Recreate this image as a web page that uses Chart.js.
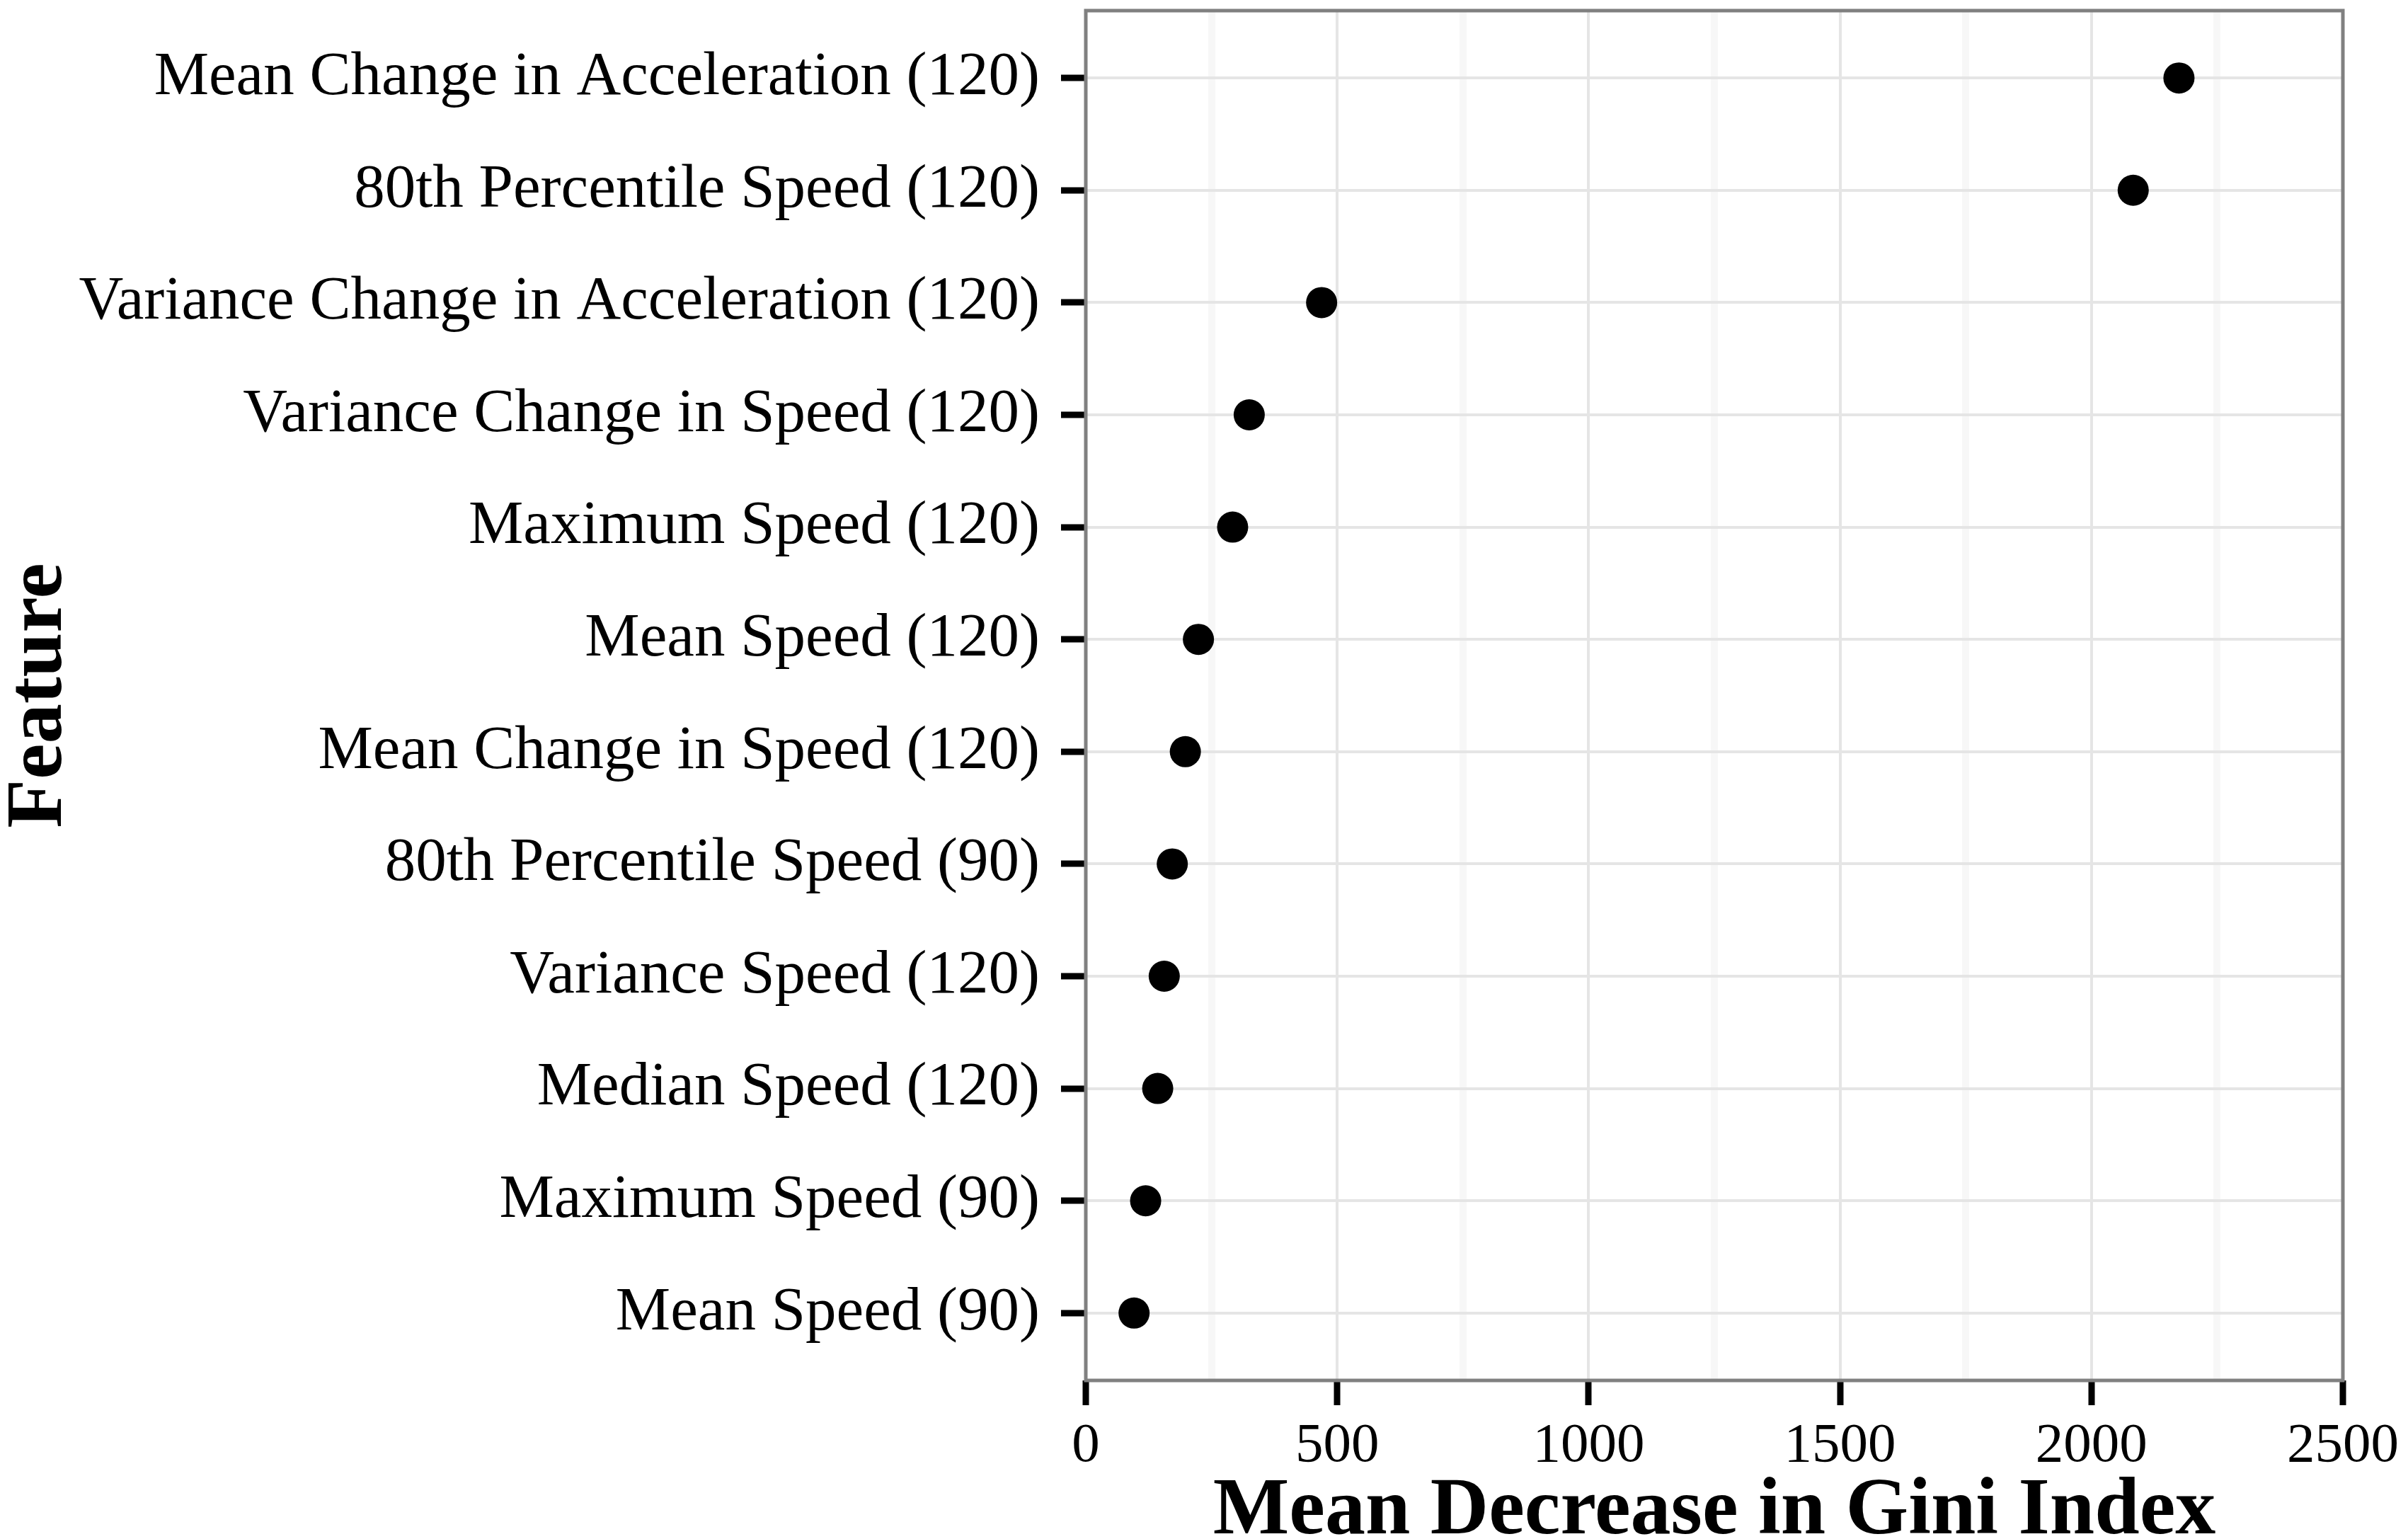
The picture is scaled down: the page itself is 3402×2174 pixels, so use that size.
<!DOCTYPE html>
<html>
<head>
<meta charset="utf-8">
<script src="https://cdn.jsdelivr.net/npm/chart.js@4/dist/chart.umd.min.js"></script>
<style>
  html, body { margin: 0; padding: 0; background: #ffffff; overflow: hidden; }
  #wrap { width: 3402px; height: 2174px; position: relative; }
</style>
</head>
<body>
<div id="wrap"><canvas id="c"></canvas></div>
<script>
const features = [
  "Mean Change in Acceleration (120)",
  "80th Percentile Speed (120)",
  "Variance Change in Acceleration (120)",
  "Variance Change in Speed (120)",
  "Maximum Speed (120)",
  "Mean Speed (120)",
  "Mean Change in Speed (120)",
  "80th Percentile Speed (90)",
  "Variance Speed (120)",
  "Median Speed (120)",
  "Maximum Speed (90)",
  "Mean Speed (90)"
];
const giniValues = [2174, 2083, 469, 325, 292, 224, 198, 172, 156, 143, 119, 96];
const xTickLabels = [0, 500, 1000, 1500, 2000, 2500];
const xTitle = "Mean Decrease in Gini Index";
const yTitle = "Feature";

const SERIF = "'Liberation Serif', 'Times New Roman', serif";

const panelBorder = {
  id: 'panelBorder',
  afterDatasetsDraw(chart) {
    const a = chart.chartArea;
    const ctx = chart.ctx;
    ctx.save();
    ctx.strokeStyle = '#808080';
    ctx.lineWidth = 5;
    ctx.strokeRect(a.left, a.top, a.right - a.left, a.bottom - a.top);
    ctx.restore();
  }
};

new Chart(document.getElementById('c'), {
  type: 'scatter',
  data: {
    datasets: [{
      data: giniValues.map((v, i) => ({ x: v, y: i })),
      backgroundColor: '#000000',
      borderWidth: 0,
      pointRadius: 22,
      pointHoverRadius: 22
    }]
  },
  options: {
    responsive: true,
    maintainAspectRatio: false,
    devicePixelRatio: 1,
    animation: false,
    layout: { autoPadding: false, padding: { top: 15, right: 92, bottom: 0, left: 0 } },
    plugins: { legend: { display: false }, tooltip: { enabled: false } },
    scales: {
      x: {
        type: 'linear',
        min: 0,
        max: 2500,
        afterBuildTicks(scale) {
          const t = [];
          for (let v = 0; v <= 2500; v += 250) t.push({ value: v });
          scale.ticks = t;
        },
        afterFit(scale) {
          scale.height = 224;
          scale.paddingLeft = 0; scale.paddingRight = 0;
          scale.paddingTop = 0; scale.paddingBottom = 0;
        },
        border: { display: false },
        grid: {
          color: (c) => (c.tick && c.tick.value % 500 === 0) ? '#e5e5e5' : '#f7f7f7',
          lineWidth: (c) => (c.tick && c.tick.value % 500 === 0) ? 4 : 10,
          tickColor: (c) => (c.tick && c.tick.value % 500 === 0) ? '#000000' : 'rgba(0,0,0,0)',
          tickWidth: 9,
          tickLength: 35,
          drawTicks: true
        },
        ticks: {
          autoSkip: false,
          maxRotation: 0,
          minRotation: 0,
          padding: 11,
          color: '#000000',
          font: { family: SERIF, size: 79 },
          callback: (v) => xTickLabels.includes(v) ? String(v) : ''
        },
        title: {
          display: true,
          text: xTitle,
          color: '#000000',
          font: { family: SERIF, size: 114, weight: 'bold', lineHeight: 0.66 },
          padding: { top: 0, bottom: 0 }
        }
      },
      y: {
        type: 'linear',
        reverse: true,
        min: -0.6,
        max: features.length - 1 + 0.6,
        afterBuildTicks(scale) {
          scale.ticks = features.map((_, i) => ({ value: i }));
        },
        afterFit(scale) {
          scale.width = 1534;
          scale.paddingLeft = 0; scale.paddingRight = 0;
          scale.paddingTop = 0; scale.paddingBottom = 0;
        },
        border: { display: false },
        grid: {
          color: '#e5e5e5',
          lineWidth: 4,
          tickColor: '#000000',
          tickWidth: 9,
          tickLength: 35,
          drawTicks: true
        },
        ticks: {
          autoSkip: false,
          padding: 30,
          color: '#000000',
          font: { family: SERIF, size: 87 },
          callback: (v) => features[v] !== undefined ? features[v] : ''
        },
        title: {
          display: true,
          text: yTitle,
          color: '#000000',
          font: { family: SERIF, size: 113, weight: 'bold', lineHeight: 1 },
          padding: { top: 0, bottom: 0 }
        }
      }
    }
  },
  plugins: [panelBorder]
});
</script>
</body>
</html>
